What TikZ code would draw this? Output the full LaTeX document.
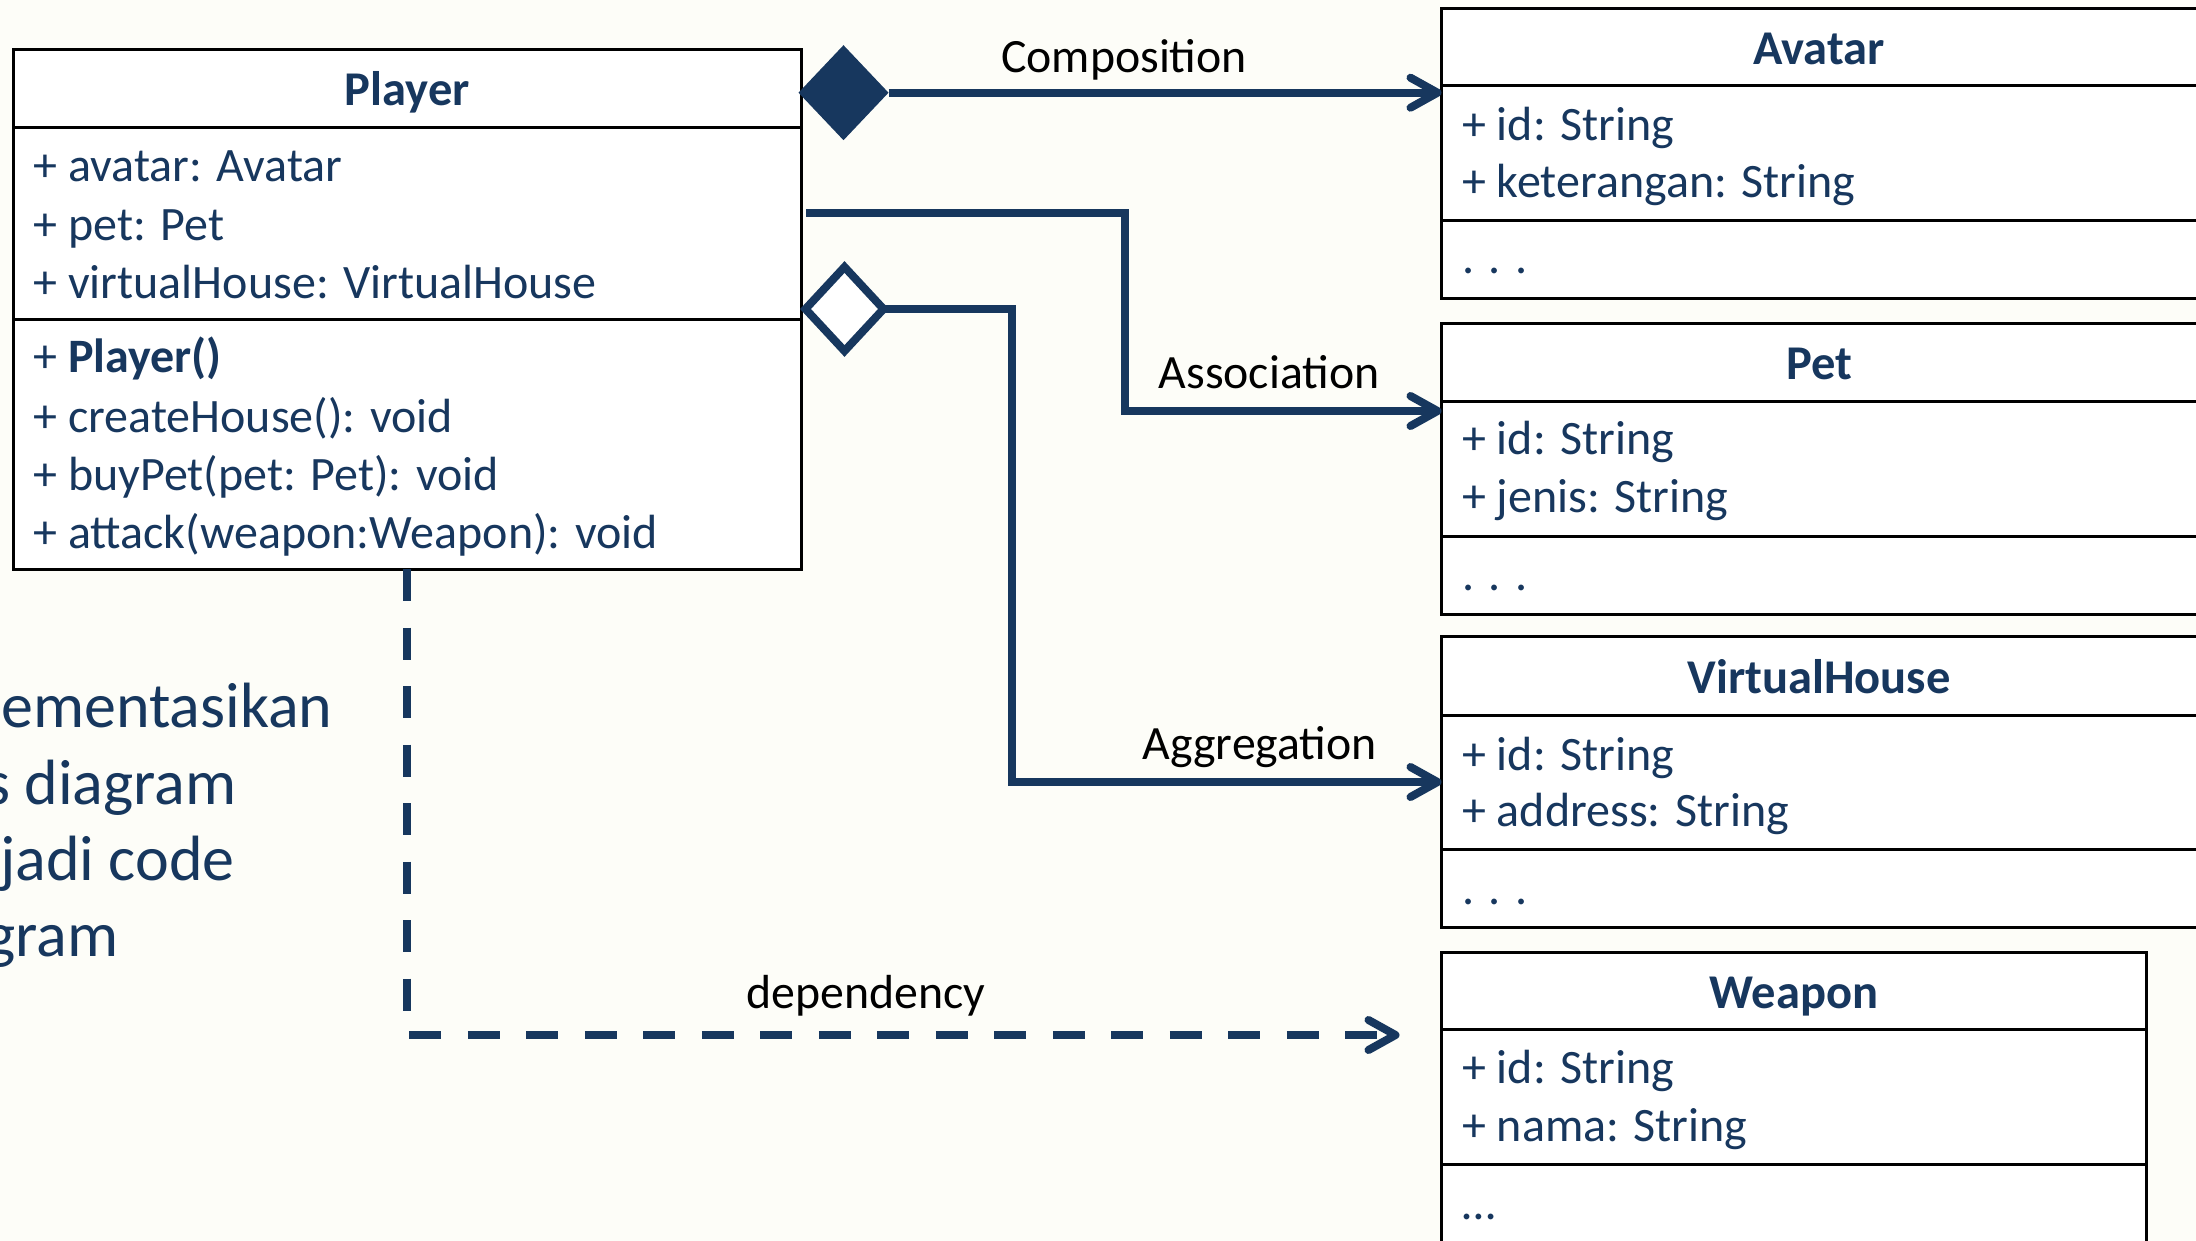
\documentclass[tikz,border=0pt]{standalone}
\usepackage{fontspec}
\setmainfont{Carlito}
\usetikzlibrary{arrows.meta,shapes.geometric}

\definecolor{navy}{RGB}{23,55,94}
\definecolor{paper}{RGB}{253,253,248}

\newcommand\memberfont{\fontsize{48}{56}\selectfont}
\newcommand\headfont{\fontsize{48.5}{56}\selectfont\bfseries}
\newcommand\labelfont{\fontsize{47.8}{56}\selectfont}
\newcommand\notefont{\fontsize{64}{76}\selectfont}

\begin{document}
\begin{tikzpicture}[
  x=1pt, y=-1pt,
  classbox/.style={rectangle, draw=black, line width=3pt, fill=white,
    inner sep=0pt, outer sep=0pt, anchor=north west},
  divider/.style={draw=black, line width=3pt},
  classname/.style={font=\headfont, text=navy, anchor=base, inner sep=0pt},
  member/.style={font=\memberfont, text=navy, anchor=base west, inner sep=0pt},
  link/.style={draw=navy, line width=8pt,
    -{Straight Barb[length=27pt,width=30pt,round]}},
  depline/.style={link, dash pattern=on 32pt off 26.5pt},
  linklabel/.style={font=\labelfont, text=black, anchor=base west, inner sep=0pt},
  note/.style={font=\notefont, text=navy, anchor=base west, inner sep=0pt},
]
\useasboundingbox (0,0) rectangle (2196,1241);
\fill[paper] (0,0) rectangle (2196,1241);
\clip (0,0) rectangle (2196,1241);

% --- side note text (runs in from the left edge)
\node[note] (note1) at (1,727) {ementasikan};
\node[note] (note2) at (-15,804) {s diagram};
\node[note] (note3) at (0,880) {jadi code};
\node[note] (note4) at (-15,956) {gram};

% --- Player class
\node[classbox, minimum width=787.5pt, minimum height=519pt] (Player) at (13.5,50) {};
\draw[divider] (Player.west |- 0,127.4) -- (Player.east |- 0,127.4);
\draw[divider] (Player.west |- 0,319.5) -- (Player.east |- 0,319.5);
\node[classname] (PlayerName) at (407.25,106) {Player};
\node[member] (pA1) at (33.3,182) {+ avatar: Avatar};
\node[member] (pA2) at (33.3,240.5) {+ pet: Pet};
\node[member] (pA3) at (33.3,298.5) {+ virtualHouse: VirtualHouse};
\node[member] (pM1) at (33.3,373) {+ \textbf{Player()}};
\node[member] (pM2) at (33.3,432) {+ createHouse(): void};
\node[member] (pM3) at (33.3,490) {+ buyPet(pet: Pet): void};
\node[member] (pM4) at (33.3,548.5) {+ attack(weapon:Weapon): void};

% --- Avatar class
\node[classbox, minimum width=758.5pt, minimum height=290.3pt] (Avatar) at (1441.5,8.7) {};
\draw[divider] (Avatar.west |- 0,86) -- (Avatar.east |- 0,86);
\draw[divider] (Avatar.west |- 0,220.6) -- (Avatar.east |- 0,220.6);
\node[classname] (AvatarName) at (1819,64.5) {Avatar};
\node[member] (aA1) at (1462,140.4) {+ id: String};
\node[member] (aA2) at (1462,197.7) {+ keterangan: String};
\node[member] (aM1) at (1462,274) {. . .};

% --- Pet class
\node[classbox, minimum width=758.5pt, minimum height=290.6pt] (Pet) at (1441.5,323.4) {};
\draw[divider] (Pet.west |- 0,401.7) -- (Pet.east |- 0,401.7);
\draw[divider] (Pet.west |- 0,536) -- (Pet.east |- 0,536);
\node[classname] (PetName) at (1819,379.6) {Pet};
\node[member] (tA1) at (1462,454) {+ id: String};
\node[member] (tA2) at (1462,512) {+ jenis: String};
\node[member] (tM1) at (1462,590) {. . .};

% --- VirtualHouse class
\node[classbox, minimum width=758.5pt, minimum height=290.4pt] (VirtualHouse) at (1441.5,636.6) {};
\draw[divider] (VirtualHouse.west |- 0,715) -- (VirtualHouse.east |- 0,715);
\draw[divider] (VirtualHouse.west |- 0,849) -- (VirtualHouse.east |- 0,849);
\node[classname] (VHName) at (1819,693) {VirtualHouse};
\node[member] (vA1) at (1462,770.5) {+ id: String};
\node[member] (vA2) at (1462,826.5) {+ address: String};
\node[member] (vM1) at (1462,904) {. . .};

% --- Weapon class
\node[classbox, minimum width=704.5pt, minimum height=292pt] (Weapon) at (1441.5,952) {};
\draw[divider] (Weapon.west |- 0,1029) -- (Weapon.east |- 0,1029);
\draw[divider] (Weapon.west |- 0,1164) -- (Weapon.east |- 0,1164);
\node[classname] (WeaponName) at (1794,1008) {Weapon};
\node[member] (wA1) at (1462,1083) {+ id: String};
\node[member] (wA2) at (1462,1141) {+ nama: String};
\node[member] (wM1) at (1462,1219) {…};

% --- relationship ends
\node[diamond, fill=navy, inner sep=0pt, outer sep=0pt,
      minimum width=90pt, minimum height=95pt] (compDia) at (843.5,92.7) {};
\node[diamond, draw=navy, fill=white, line width=8pt, inner sep=0pt, outer sep=0pt,
      minimum width=78pt, minimum height=84pt] (aggDia) at (844.5,309) {};
\coordinate (assocStart) at (806,213);
\coordinate (depEnd) at (1399.5,1035);

% --- connectors
\draw[link] (compDia.east) -- (Avatar.west |- compDia.east);
\draw[link] (assocStart) -| (1124.5,411) -- (Pet.west |- 0,411);
\draw[link] (aggDia.east) -| (1012,782) -- (VirtualHouse.west |- 0,782);
\draw[depline] (Player.south) |- (depEnd);

% --- connector labels
\node[linklabel] (lblComp) at (1001,72.5) {Composition};
\node[linklabel] (lblAssoc) at (1158.5,388.3) {Association};
\node[linklabel] (lblAgg) at (1142.6,759) {Aggregation};
\node[linklabel] (lblDep) at (746,1008) {dependency};
\end{tikzpicture}
\end{document}
